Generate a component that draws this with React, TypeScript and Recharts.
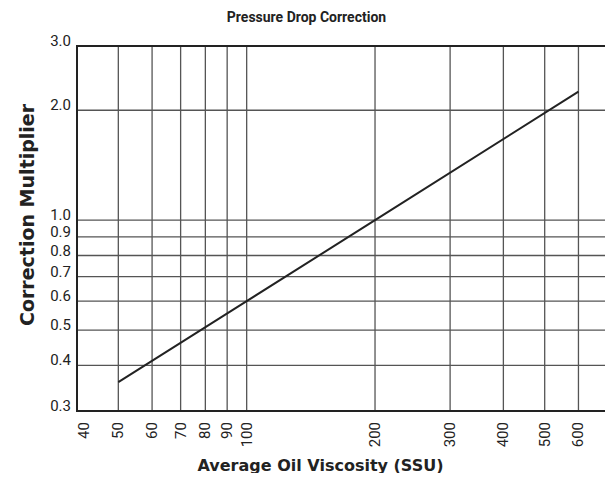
import React from "react";
import {
  LineChart,
  Line,
  XAxis,
  YAxis,
  CartesianGrid,
  ReferenceArea,
} from "recharts";

// viscosity (SSU) vs correction multiplier
const viscosity = [50, 100, 200, 600];
const multiplier = [0.36, 0.6, 1.0, 2.25];

const xTicks = [40, 50, 60, 70, 80, 90, 100, 200, 300, 400, 500, 600];
const yTicks = [0.3, 0.4, 0.5, 0.6, 0.7, 0.8, 0.9, 1.0, 2.0, 3.0];

const data = viscosity.map((v, i) => ({ x: v, y: multiplier[i] }));

const TICK_FONT = "Roboto, 'Liberation Sans', sans-serif";
const LABEL_FONT = "'DejaVu Sans', Roboto, sans-serif";
const INK = "#222";

function XTick(props: any) {
  const { x, y, payload, index } = props;
  // first label sits just inside the left border
  const cx = index === 0 ? x + 7 : x;
  const cy = y + 3;
  return (
    <text
      x={cx}
      y={cy}
      transform={`rotate(-90 ${cx} ${cy})`}
      textAnchor="end"
      dominantBaseline="central"
      fontSize={15}
      fontFamily={TICK_FONT}
      fill={INK}
    >
      {payload.value}
    </text>
  );
}

function YTick(props: any) {
  const { x, y, payload } = props;
  return (
    <text
      x={x + 2}
      y={y}
      textAnchor="end"
      fontSize={15}
      fontFamily={TICK_FONT}
      fill={INK}
    >
      {payload.value.toFixed(1)}
    </text>
  );
}

export default function App() {
  return (
    <div style={{ margin: -8, width: 613, height: 481, background: "#fff", position: "relative" }}>
      <div
        style={{
          position: "absolute",
          top: 9,
          left: 0,
          width: 613,
          textAlign: "center",
          fontFamily: TICK_FONT,
          fontWeight: 700,
          fontSize: 14,
          color: INK,
        }}
      >
        Pressure Drop Correction
      </div>
      <div
        style={{
          position: "absolute",
          top: 456,
          left: 0,
          width: 641,
          textAlign: "center",
          fontFamily: LABEL_FONT,
          fontWeight: 700,
          fontSize: 16,
          color: INK,
        }}
      >
        Average Oil Viscosity (SSU)
      </div>
      <div
        style={{
          position: "absolute",
          left: 27,
          top: 215,
          transform: "translate(-50%, -50%) rotate(-90deg)",
          whiteSpace: "nowrap",
          fontFamily: LABEL_FONT,
          fontWeight: 700,
          fontSize: 19,
          color: INK,
        }}
      >
        Correction Multiplier
      </div>
      <LineChart
        width={613}
        height={481}
        data={data}
        margin={{ top: 46, right: 6, bottom: 30, left: 17 }}
      >
        <CartesianGrid
          stroke="#555"
          strokeWidth={1.3}
          horizontalValues={yTicks}
          verticalValues={xTicks}
        />
        <XAxis
          dataKey="x"
          type="number"
          scale="log"
          domain={[40, 700]}
          ticks={xTicks}
          allowDataOverflow
          height={40}
          axisLine={false}
          tickLine={false}
          tick={<XTick />}
          interval={0}
        />
        <YAxis
          type="number"
          scale="log"
          domain={[0.3, 3]}
          ticks={yTicks}
          allowDataOverflow
          width={60}
          axisLine={false}
          tickLine={false}
          tick={<YTick />}
          interval={0}
        />
        <ReferenceArea
          x1={40}
          x2={700}
          y1={0.3}
          y2={3}
          fill="none"
          fillOpacity={0}
          stroke={INK}
          strokeWidth={2}
          ifOverflow="visible"
        />
        <Line
          dataKey="y"
          stroke={INK}
          strokeWidth={2}
          dot={false}
          isAnimationActive={false}
        />
      </LineChart>
    </div>
  );
}
